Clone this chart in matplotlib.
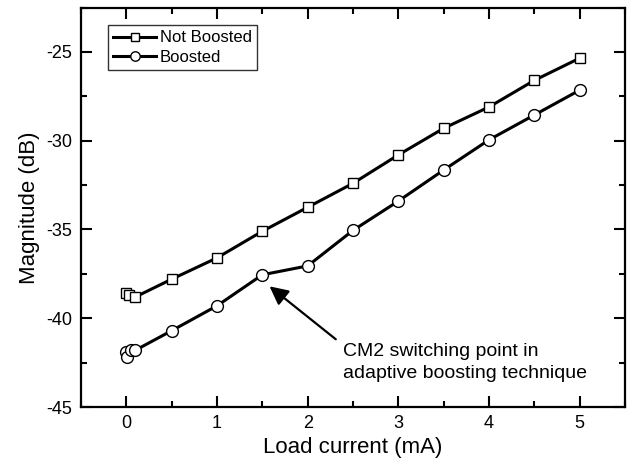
import matplotlib
matplotlib.use("Agg")
import matplotlib.pyplot as plt
from matplotlib.ticker import MultipleLocator

plt.rcParams['font.family'] = ['Liberation Sans', 'DejaVu Sans']
plt.rcParams['axes.unicode_minus'] = False

x_not = [0.0, 0.03, 0.1, 0.5, 1.0, 1.5, 2.0, 2.5, 3.0, 3.5, 4.0, 4.5, 5.0]
y_not = [-38.6, -38.7, -38.8, -37.8, -36.6, -35.1, -33.75, -32.4, -30.8, -29.3, -28.1, -26.6, -25.35]

x_boost = [0.0, 0.01, 0.05, 0.1, 0.5, 1.0, 1.5, 2.0, 2.5, 3.0, 3.5, 4.0, 4.5, 5.0]
y_boost = [-41.9, -42.2, -41.8, -41.8, -40.7, -39.3, -37.55, -37.05, -35.05, -33.4, -31.65, -29.95, -28.55, -27.15]

xticks = [0, 1, 2, 3, 4, 5]
yticks = [-45, -40, -35, -30, -25]

fig = plt.figure(figsize=(6.27, 4.69), dpi=100)
ax = fig.add_axes([0.129, 0.132, 0.868, 0.852])

ax.plot(x_not, y_not, color='black', lw=2.2, marker='s', ms=7.5,
        mfc='white', mec='black', mew=1.0, label='Not Boosted')
ax.plot(x_boost, y_boost, color='black', lw=2.2, marker='o', ms=8.5,
        mfc='white', mec='black', mew=1.0, label='Boosted')

ax.set_xlim(-0.5, 5.5)
ax.set_ylim(-45, -22.5)
ax.set_xticks(xticks)
ax.set_yticks(yticks)
ax.xaxis.set_minor_locator(MultipleLocator(0.5))
ax.yaxis.set_minor_locator(MultipleLocator(2.5))
ax.tick_params(which='both', direction='in', top=True, right=True,
               labelsize=13, width=1.5)
ax.tick_params(which='major', length=8, pad=6)
ax.tick_params(which='minor', length=4)
for s in ax.spines.values():
    s.set_linewidth(1.6)

ax.set_xlabel('Load current (mA)', fontsize=16, labelpad=3)
ax.set_ylabel('Magnitude (dB)', fontsize=16, labelpad=5)

leg = ax.legend(loc='upper left', bbox_to_anchor=(0.05, 0.955), fontsize=12,
                frameon=True, fancybox=False, edgecolor='black',
                handlelength=2.6, handletextpad=0.2, borderpad=0.3,
                labelspacing=0.25, borderaxespad=0.0, markerscale=0.8)
leg.get_frame().set_linewidth(1.0)

ax.annotate('', xy=(1.58, -38.2), xytext=(2.31, -41.18),
            arrowprops=dict(arrowstyle='-|>', mutation_scale=28, lw=1.6,
                            color='black', shrinkA=0, shrinkB=0))
ax.text(2.39, -42.47, 'CM2 switching point in\nadaptive boosting technique',
        fontsize=14, ha='left', va='center', linespacing=1.4)

fig.savefig('out.png', dpi=100)
